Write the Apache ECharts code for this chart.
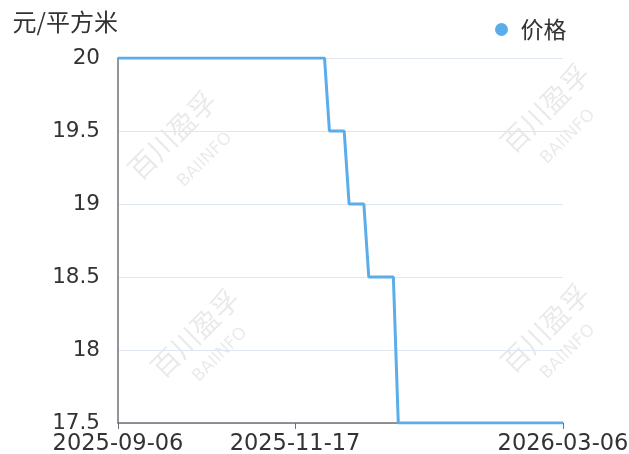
<!DOCTYPE html>
<html>
<head>
<meta charset="utf-8">
<script src="https://cdn.jsdelivr.net/npm/echarts@6/dist/echarts.min.js"></script>
<style>
html,body{margin:0;padding:0;background:#fff;}
#chart{width:629px;height:454px;}
</style>
</head>
<body>
<div id="chart"></div>
<script>
// ---- data ----
var dates = ['2025-09-06','2025-11-29','2025-12-01','2025-12-07','2025-12-09','2025-12-15','2025-12-17','2025-12-27','2025-12-29','2026-03-06'];
var prices = [20, 20, 19.5, 19.5, 19, 19, 18.5, 18.5, 17.5, 17.5];
var tickDates = ['2025-09-06','2025-11-17','2026-03-06'];
var yMin = 17.5, yMax = 20, yStep = 0.5;
var seriesName = '价格';
var unitName = '元/平方米';
var wmMain = '百川盈孚', wmSub = 'BAIINFO';

function parseDay(s){ var p = s.split('-'); return Date.UTC(+p[0], +p[1]-1, +p[2]); }
function pad(n){ return (n<10?'0':'')+n; }
function fmtDay(t){ var d = new Date(t); return d.getUTCFullYear()+'-'+pad(d.getUTCMonth()+1)+'-'+pad(d.getUTCDate()); }

var seriesData = dates.map(function(d,i){ return [parseDay(d), prices[i]]; });
var tickVals = tickDates.map(parseDay);

var FONT = 'DejaVu Sans';
var CJK = '"Noto Sans CJK SC", "DejaVu Sans", sans-serif';

function wm(x, y, x2, y2){
  return [
    {type:'text', x:x, y:y, rotation:Math.PI/4, z:-10, silent:true,
     style:{text:wmMain, font:'28px "Noto Sans CJK SC"', fill:'rgba(0,0,0,0.085)', align:'center', verticalAlign:'middle'}},
    {type:'text', x:x2, y:y2, rotation:Math.PI/4, z:-10, silent:true,
     style:{text:wmSub, font:'17px "DejaVu Sans"', fill:'rgba(0,0,0,0.085)', align:'center', verticalAlign:'middle'}}
  ];
}

var chart = echarts.init(document.getElementById('chart'), null, {renderer:'canvas'});
chart.setOption({
  animation:false,
  backgroundColor:'#fff',
  graphic: [].concat(wm(172,135,205,160), wm(545,108,568,137), wm(195,333,220,355), wm(545,328,568,352)),
  legend:{
    data:[seriesName],
    left:490, top:13,
    icon:'circle', itemWidth:28, itemHeight:13,
    textStyle:{fontFamily:CJK, fontSize:23, color:'#333'}
  },
  grid:{left:118, right:66, top:58, bottom:31, containLabel:false, outerBoundsMode:'none'},
  xAxis:{
    type:'value',
    min:tickVals[0], max:tickVals[tickVals.length-1],
    splitLine:{show:false},
    axisLine:{lineStyle:{color:'#6e7079', width:1.5}},
    axisTick:{show:true, customValues:tickVals, length:6, lineStyle:{color:'#6e7079'}},
    axisLabel:{customValues:tickVals, formatter:function(v){return fmtDay(v);}, fontFamily:FONT, fontSize:22.5, color:'#333', margin:10, hideOverlap:false}
  },
  yAxis:{
    type:'value',
    min:yMin, max:yMax, interval:yStep,
    name:unitName,
    nameLocation:'end',
    nameGap:24,
    nameTextStyle:{fontFamily:CJK, fontSize:24, color:'#333', align:'right'},
    axisLine:{show:true, lineStyle:{color:'#6e7079', width:1.5}},
    axisTick:{show:false},
    splitLine:{lineStyle:{color:'#e0e6f1'}},
    axisLabel:{fontFamily:FONT, fontSize:21.5, color:'#333', margin:18}
  },
  series:[{
    name:seriesName,
    type:'line',
    data:seriesData,
    showSymbol:false,
    symbol:'none',
    itemStyle:{color:'#5aade9'},
    lineStyle:{color:'#5aade9', width:3}
  }]
});
</script>
</body>
</html>
